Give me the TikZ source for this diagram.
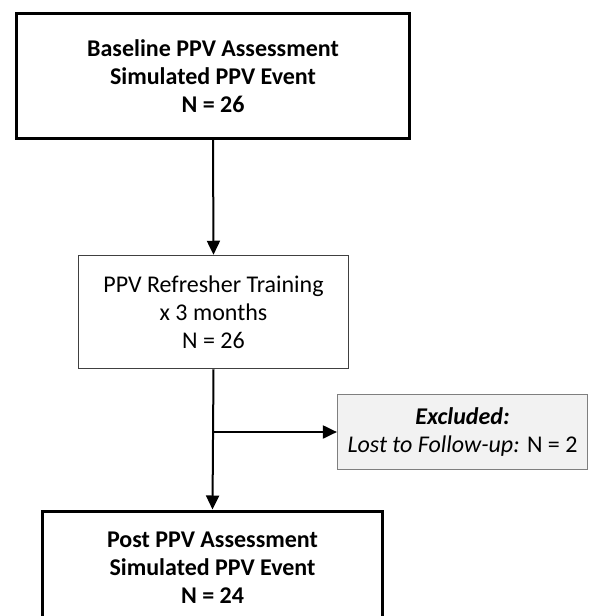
\documentclass[tikz,border=0pt]{standalone}
\usepackage{fontspec}
\setmainfont{Carlito}
\usetikzlibrary{arrows.meta}

\definecolor{exclfill}{HTML}{F2F2F2}
\definecolor{exclline}{HTML}{7F7F7F}
\definecolor{midline}{HTML}{404040}

\begin{document}
\begin{tikzpicture}[x=1pt, y=-1pt,
	every node/.style = {align=center, inner sep=0pt, font=\fontsize{24}{28}\selectfont},
	mainbox/.style = {draw, line width=3pt, font=\fontsize{24}{28}\selectfont\bfseries},
	stagebox/.style = {draw=midline, line width=1.5pt},
	exclbox/.style = {draw=exclline, fill=exclfill, line width=1.2pt},
	flow/.style = {line width=2pt, -{Triangle[length=14pt, width=13pt]}}]
	\useasboundingbox (0,0) rectangle (589,616);
	\node[mainbox, minimum width=393pt, minimum height=125pt] (base) at (213,76)
		{Baseline PPV Assessment\\Simulated PPV Event\\N = 26};
	\node[stagebox, minimum width=270pt, minimum height=113pt] (train) at (213.5,312)
		{PPV Refresher Training\\x 3 months\\N = 26};
	\node[exclbox, minimum width=250pt, minimum height=75pt] (excl) at (462.5,432)
		{\textbf{\textit{Excluded:}}\\\textit{Lost to Follow-up:} N = 2};
	\node[mainbox, minimum width=340pt, minimum height=114pt] (post) at (212.5,568)
		{Post PPV Assessment\\Simulated PPV Event\\N = 24};
	\coordinate (split) at (train.south |- excl.west);
	\draw[flow] (base.south) -- (train.north);
	\draw[flow] (train.south) -- (post.north);
	\draw[flow] (split) -- (excl.west);
\end{tikzpicture}
\end{document}
